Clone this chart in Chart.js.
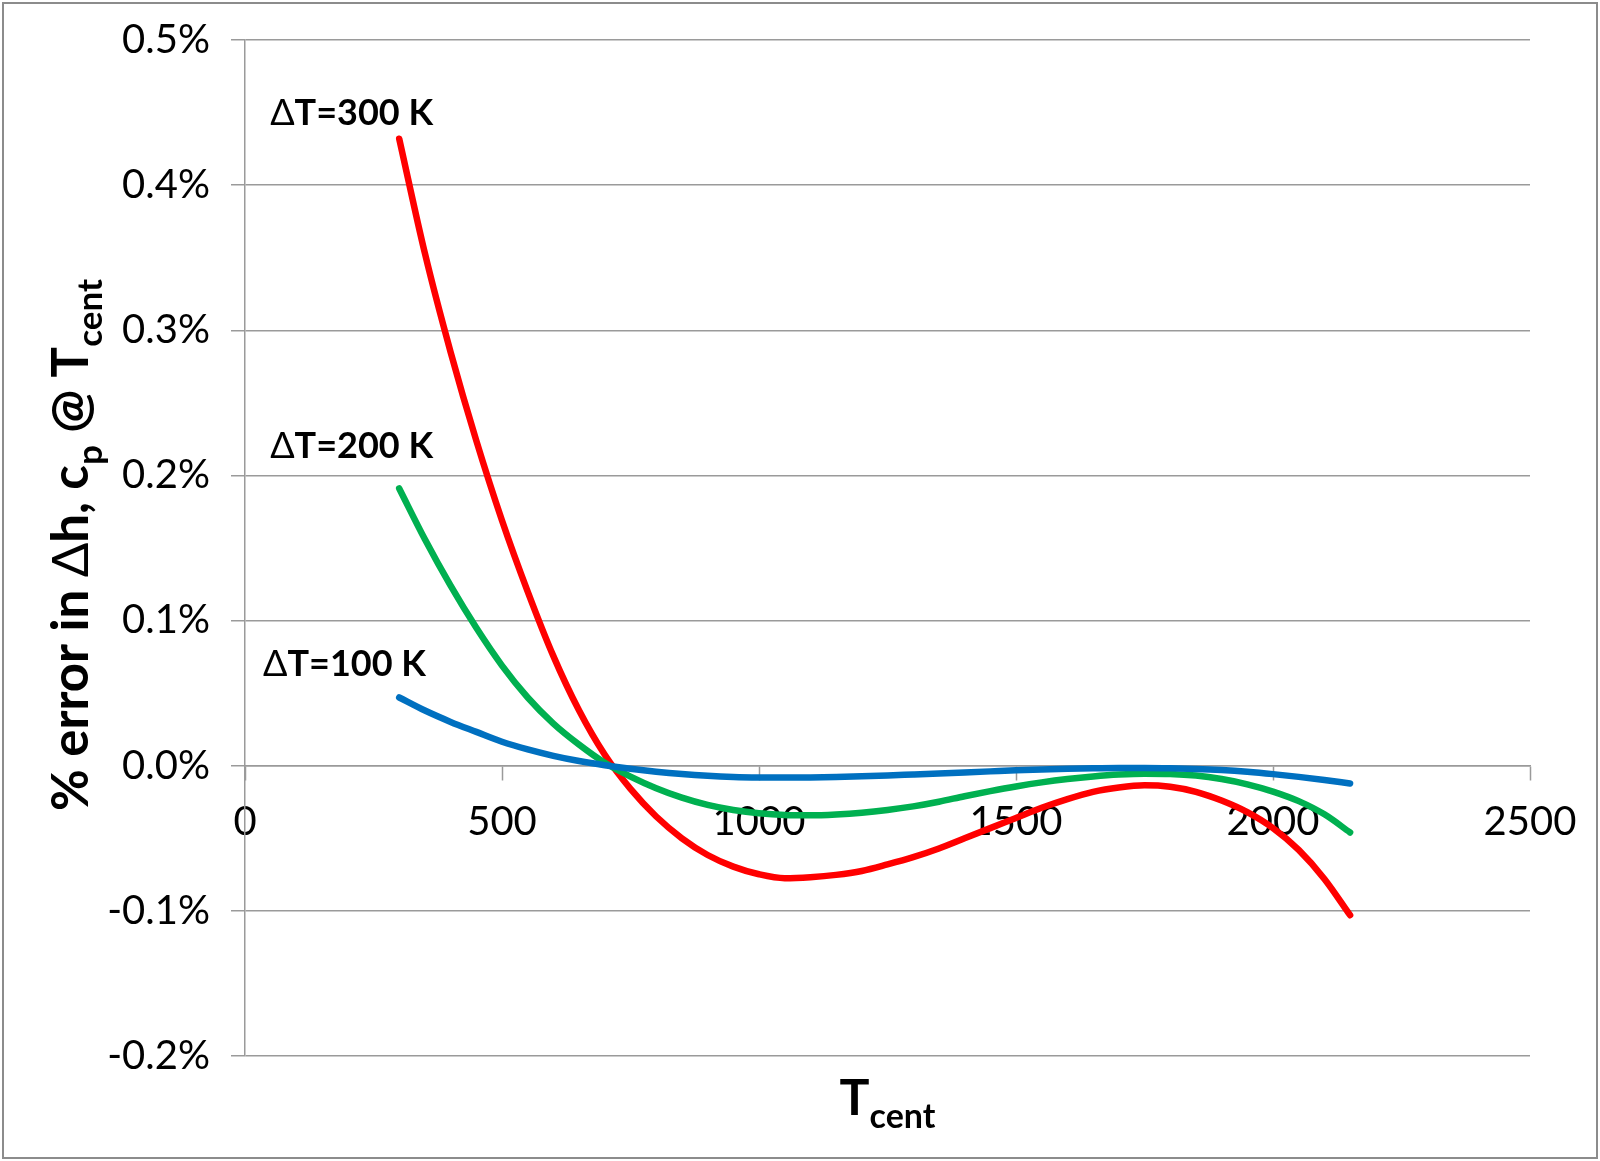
<!DOCTYPE html>
<html>
<head>
<meta charset="utf-8">
<script src="https://cdn.jsdelivr.net/npm/chart.js@4.4.1/dist/chart.umd.min.js"></script>
<style>
  html, body { margin: 0; padding: 0; background: #fff; }
  #wrap { width: 1600px; height: 1161px; position: relative; }
</style>
</head>
<body>
<div id="wrap"><canvas id="errChart"></canvas></div>
<script>
// values (y in %)
var tcent = [300, 350, 400, 450, 500, 550, 600, 650, 700, 750, 800, 850, 900, 950, 1000,
    1050, 1100, 1150, 1200, 1250, 1300, 1350, 1400, 1450, 1500, 1550, 1600, 1650, 1700,
    1750, 1800, 1850, 1900, 1950, 2000, 2050, 2100, 2150];

var err100 = [0.047, 0.038, 0.0302, 0.0233, 0.0165, 0.0112, 0.0068, 0.0032, 0.0003, -0.0021,
    -0.0041, -0.0057, -0.0069, -0.0077, -0.0081, -0.0082, -0.0081, -0.0078, -0.0073, -0.0067,
    -0.0060, -0.0053, -0.0046, -0.0039, -0.0032, -0.0026, -0.0021, -0.0017, -0.0015, -0.0015,
    -0.0017, -0.0022, -0.0030, -0.0042, -0.0058, -0.0077, -0.0098, -0.0122];

var err200 = [0.191, 0.156, 0.124, 0.095, 0.069, 0.047, 0.029, 0.0145, 0.002, -0.0075, -0.0155,
    -0.0220, -0.0270, -0.0305, -0.0328, -0.0340, -0.0342, -0.0336, -0.0324, -0.0305, -0.0280,
    -0.0248, -0.0210, -0.0175, -0.0143, -0.0115, -0.0092, -0.0074, -0.0061, -0.0055, -0.0057,
    -0.0068, -0.0092, -0.0128, -0.0178, -0.0244, -0.0335, -0.046];

var err300 = [0.432, 0.353, 0.285, 0.224, 0.169, 0.120, 0.0755, 0.038, 0.0075, -0.016, -0.035,
    -0.050, -0.0615, -0.0695, -0.0748, -0.0775, -0.0768, -0.0752, -0.0725, -0.068, -0.063,
    -0.057, -0.050, -0.043, -0.036, -0.029, -0.023, -0.018, -0.015, -0.0135, -0.0145, -0.018,
    -0.024, -0.032, -0.043, -0.058, -0.078, -0.103];

var seriesNames = ['ΔT=100 K', 'ΔT=200 K', 'ΔT=300 K'];
var seriesColors = ['#0070C0', '#00B050', '#FF0000'];
var xTicks = [0, 500, 1000, 1500, 2000, 2500];
var yTicks = [-0.2, -0.1, 0.0, 0.1, 0.2, 0.3, 0.4, 0.5];

// where the curve labels sit (data coords: Tcent, %)
var labelAnchors = [[35, 0.062], [49, 0.212], [49, 0.4415]];

var FONT = "Lato, 'DejaVu Sans', sans-serif";

function points(ys) {
    return tcent.map(function (t, i) { return { x: t, y: ys[i] }; });
}

// draw a row of text pieces (for subscripts), returns the width
function richText(ctx, parts, x, y, measureOnly) {
    var w = 0;
    parts.forEach(function (p) {
        ctx.font = (p.bold ? 'bold ' : '') + p.size + 'px ' + FONT;
        if (!measureOnly) ctx.fillText(p.t, x + w, y + (p.dy || 0));
        w += ctx.measureText(p.t).width;
    });
    return w;
}

var textPlugin = {
    id: 'texts',
    beforeDraw: function (chart) {
        var ctx = chart.ctx;
        ctx.save();
        ctx.strokeStyle = '#8c8c8c';
        ctx.lineWidth = 2;
        ctx.strokeRect(3, 3, 1594, 1155);
        ctx.restore();
    },
    afterDraw: function (chart) {
        var ctx = chart.ctx;
        var xs = chart.scales.x, ys = chart.scales.y;
        ctx.save();
        ctx.fillStyle = '#000';
        ctx.textBaseline = 'alphabetic';
        ctx.textAlign = 'left';

        // curve labels
        seriesNames.forEach(function (name, i) {
            var px = xs.getPixelForValue(labelAnchors[i][0]);
            var py = ys.getPixelForValue(labelAnchors[i][1]);
            richText(ctx, [
                { t: name.charAt(0), size: 36 },
                { t: name.slice(1), size: 36, bold: true }
            ], px, py);
        });

        // x title
        var xt = [
            { t: 'T', size: 50, bold: true },
            { t: 'cent', size: 34, bold: true, dy: 13 }
        ];
        var xw = richText(ctx, xt, 0, 0, true);
        var cx = (chart.chartArea.left + chart.chartArea.right) / 2;
        richText(ctx, xt, cx - xw / 2, 1115);

        // y title
        var yt = [
            { t: '% error in ', size: 51, bold: true },
            { t: 'Δ', size: 51 },
            { t: 'h, c', size: 51, bold: true },
            { t: 'p', size: 35, bold: true, dy: 14 },
            { t: ' @ T', size: 51, bold: true },
            { t: 'cent', size: 35, bold: true, dy: 14 }
        ];
        var yw = richText(ctx, yt, 0, 0, true);
        ctx.translate(88, 545);
        ctx.rotate(-Math.PI / 2);
        richText(ctx, yt, -yw / 2, 0);
        ctx.restore();
    }
};

var ctx = document.getElementById('errChart').getContext('2d');
ctx.canvas.width = 1600;
ctx.canvas.height = 1161;

var myChart = new Chart(ctx, {
    type: 'line',
    data: {
        datasets: [err100, err200, err300].map(function (ys, i) {
            return {
                label: seriesNames[i],
                data: points(ys),
                borderColor: seriesColors[i],
                backgroundColor: seriesColors[i],
                borderWidth: 6.5,
                borderCapStyle: 'round',
                borderJoinStyle: 'round',
                pointRadius: 0,
                cubicInterpolationMode: 'monotone',
                fill: false
            };
        })
    },
    options: {
        responsive: false,
        animation: false,
        layout: { padding: { top: 40, right: 70, bottom: 105, left: 0 } },
        plugins: {
            legend: { display: false },
            tooltip: { enabled: false },
            title: { display: false }
        },
        scales: {
            x: {
                type: 'linear',
                position: { y: 0 },
                min: 0,
                max: 2500,
                afterBuildTicks: function (s) {
                    s.ticks = xTicks.map(function (v) { return { value: v }; });
                },
                grid: {
                    drawOnChartArea: false,
                    drawTicks: true,
                    tickLength: 14,
                    tickColor: '#9a9a9a',
                    tickWidth: 1.5
                },
                border: { display: true, color: '#9a9a9a', width: 1.5 },
                ticks: {
                    color: '#000',
                    padding: 18,
                    maxRotation: 0,
                    font: { family: FONT, size: 40 },
                    callback: function (v) { return String(v); }
                }
            },
            y: {
                min: -0.2,
                max: 0.5,
                afterFit: function (s) {
                    s.width = 245;
                    s.paddingTop = 0;
                    s.paddingBottom = 0;
                },
                afterBuildTicks: function (s) {
                    s.ticks = yTicks.map(function (v) { return { value: v }; });
                },
                grid: {
                    color: '#9a9a9a',
                    lineWidth: 1.5,
                    drawTicks: true,
                    tickLength: 14
                },
                border: { display: true, color: '#9a9a9a', width: 1.5 },
                ticks: {
                    color: '#000',
                    padding: 21,
                    font: { family: FONT, size: 40 },
                    callback: function (v) { return v.toFixed(1) + '%'; }
                }
            }
        }
    },
    plugins: [textPlugin]
});
</script>
</body>
</html>
